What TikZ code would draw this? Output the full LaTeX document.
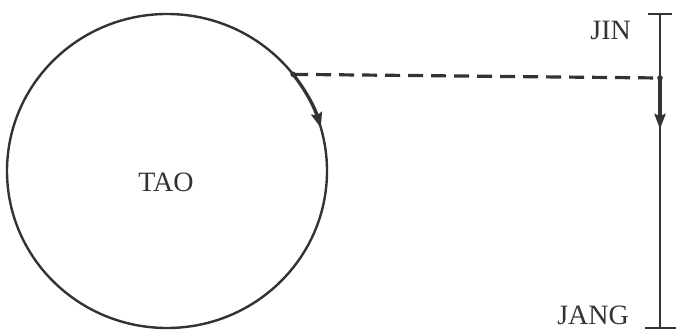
\documentclass[tikz,border=0pt]{standalone}
\usepackage{fontspec}
\setmainfont{Liberation Serif}
\usetikzlibrary{arrows.meta,calc}
\begin{document}
\begin{tikzpicture}[x=1pt,y=1pt,
  ink/.style={draw=black!80,line width=2.4pt},
  thickink/.style={draw=black!80,line width=3.2pt},
  tip/.style={-{Stealth[length=15pt,width=11pt,inset=2pt]}},
  lbl/.style={text=black!80,font=\fontsize{28}{30}\selectfont,inner sep=0pt}]
\useasboundingbox (0,0) rectangle (679,330);
\fill[white] (0,0) rectangle (679,330);
\coordinate (c) at (167,159);
\draw[ink] (c) ellipse [x radius=160, y radius=157];
\coordinate (p) at ($(c)+(38:160 and 157)$);
\coordinate (a) at ($(c)+(16:160 and 157)$);
\draw[thickink,tip] (p) arc [start angle=38, end angle=16, x radius=160, y radius=157];
\node[lbl] (tao) at (166,148) {TAO};
% vertical scale
\coordinate (top) at (660,316);
\coordinate (bot) at (660,2);
\coordinate (q) at (660,252);
\coordinate (qa) at (660,201);
\coordinate (tl) at (648,316);
\coordinate (tr) at (672,316);
\coordinate (bl) at (645,2);
\coordinate (br) at (676,2);
\draw[ink] (top) -- (bot);
\draw[ink] (tl) -- (tr);
\draw[ink] (bl) -- (br);
\draw[thickink,tip] (q) -- (qa);
\draw[thickink,dash pattern=on 15pt off 8pt] (p) -- (q);
\fill[black!80] (p) circle (2.8pt);
\fill[black!80] (q) circle (2.8pt);
\node[lbl,anchor=east] (jin) at (631,300) {JIN};
\node[lbl,anchor=east] (jang) at (629,15) {JANG};
\end{tikzpicture}
\end{document}
